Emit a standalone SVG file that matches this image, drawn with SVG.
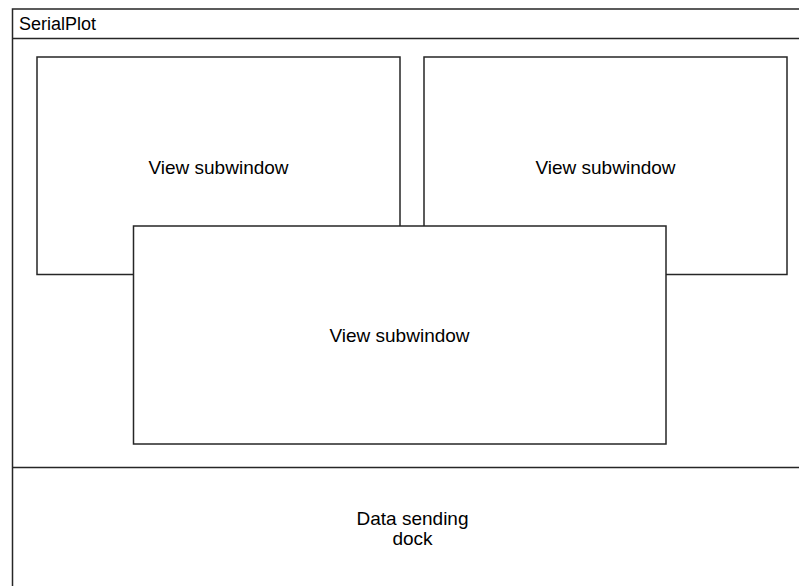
<svg xmlns="http://www.w3.org/2000/svg" width="799" height="586" viewBox="0 0 799 586">
<style>
.box{fill:#fff;stroke:#262626;stroke-width:1.5}
.ln{stroke:#262626;stroke-width:1.5;fill:none}
.t{font-family:"Liberation Sans",Arial,sans-serif;font-size:19px;fill:#000;text-anchor:middle}
.h{font-family:"Liberation Sans",Arial,sans-serif;font-size:18px;fill:#000}
</style>
<rect width="799" height="586" fill="#fff"/>
<g id="serialplot">
<rect class="box" x="12.5" y="9" width="800" height="590"/>
<line class="ln" x1="12.5" y1="38.5" x2="812" y2="38.5"/>
<text class="h" x="19" y="29.5">SerialPlot</text>
</g>
<g id="view1">
<rect class="box" x="37" y="57" width="363" height="217.5"/>
<text class="t" x="218.5" y="174">View subwindow</text>
</g>
<g id="view2">
<rect class="box" x="424" y="57" width="363" height="217.5"/>
<text class="t" x="605.5" y="174">View subwindow</text>
</g>
<g id="view3">
<rect class="box" x="133.5" y="226" width="532.5" height="218"/>
<text class="t" x="399.5" y="342">View subwindow</text>
</g>
<g id="dock">
<line class="ln" x1="12.5" y1="467.5" x2="812" y2="467.5"/>
<text class="t" x="412.5" y="525">Data sending</text>
<text class="t" x="412.5" y="545">dock</text>
</g>
<g id="connectors"></g>
</svg>
